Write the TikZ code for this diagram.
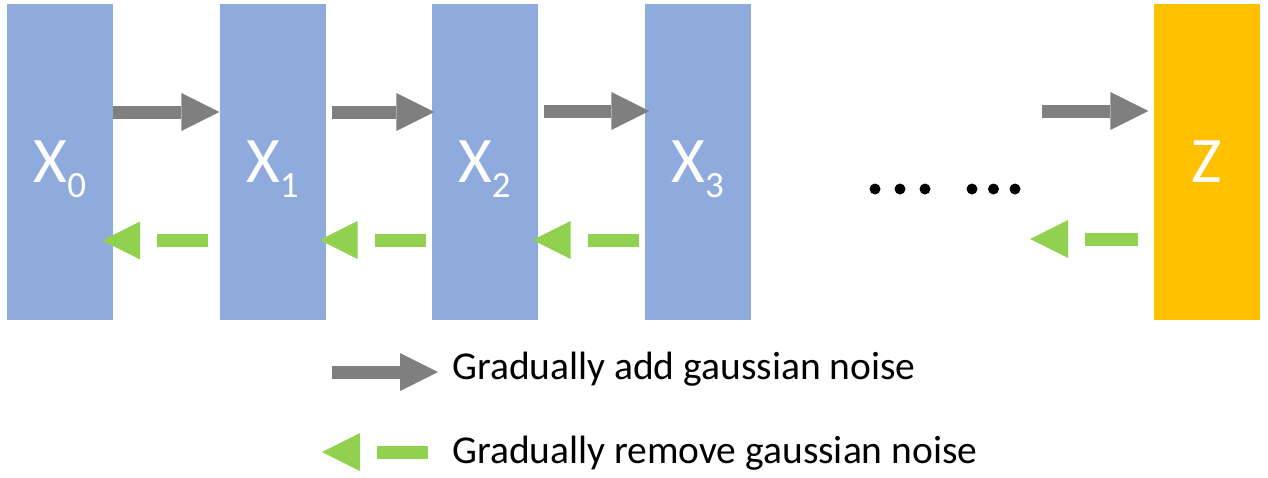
\documentclass[tikz,border=0pt]{standalone}
\usepackage{fontspec}
\newfontfamily\carlito{Carlito}
\usetikzlibrary{calc}
\definecolor{boxblue}{HTML}{8FAADC}
\definecolor{zorange}{HTML}{FFC000}
\definecolor{fwdgray}{HTML}{7F7F7F}
\definecolor{backgreen}{HTML}{92D050}
\tikzset{
  stagebox/.style={minimum width=106pt, minimum height=316pt, inner sep=0pt, text=white,
    font=\carlito\fontsize{65pt}{65pt}\selectfont},
  legendtext/.style={anchor=base west, inner sep=0pt, font=\carlito\fontsize{39.5pt}{39.5pt}\selectfont},
  dotmark/.style={fill=black}
}
% forward (grey block) arrow: #1 start of shaft, #2 tip
\newcommand\fwdarrow[2]{%
  \fill[fwdgray] ($(#1)+(0,6.5)$) rectangle ($(#2)+(-38,-6.5)$);
  \fill[fwdgray] (#2) -- ($(#2)+(-38,19)$) -- ($(#2)+(-38,-19)$) -- cycle;}
% backward (green dashed) arrow: #1 tip, #2 end of dash
\newcommand\backarrow[2]{%
  \fill[backgreen] (#1) -- ($(#1)+(38,19)$) -- ($(#1)+(38,-19)$) -- cycle;
  \fill[backgreen] ($(#1)+(55,6.5)$) rectangle ($(#2)+(0,-6.5)$);}
\newcommand\sub[1]{\smash{\raisebox{-15pt}{\fontsize{37pt}{37pt}\selectfont #1}}}
\begin{document}
\begin{tikzpicture}[x=1pt,y=1pt]
\useasboundingbox (0,0) rectangle (1268,-477);
% stages
\node[stagebox, fill=boxblue] (x0) at (60,-162) {X\sub{0}};
\node[stagebox, fill=boxblue] (x1) at (272.5,-162) {X\sub{1}};
\node[stagebox, fill=boxblue] (x2) at (484.5,-162) {X\sub{2}};
\node[stagebox, fill=boxblue] (x3) at (697.5,-162) {X\sub{3}};
\node[stagebox, fill=zorange] (z) at (1206.5,-162) {Z};
% forward arrows
\fwdarrow{$(x0.east)+(0,50)$}{$(x1.west)+(0,50)$}
\fwdarrow{$(x1.east)+(6,50)$}{$(x2.west)+(3,50)$}
\fwdarrow{$(x2.east)+(6,51)$}{$(x3.west)+(5,51)$}
\coordinate (zin) at (1042,-111);
\fwdarrow{zin}{$(z.west)+(-5,51)$}
% backward arrows
\backarrow{$(x0.east)+(-11,-78.5)$}{$(x1.west)+(-11,-78.5)$}
\backarrow{$(x1.east)+(-6,-78)$}{$(x2.west)+(-5,-78)$}
\backarrow{$(x2.east)+(-5,-78)$}{$(x3.west)+(-5,-78)$}
\coordinate (zout) at (1030,-239);
\backarrow{zout}{$(z.west)+(-15,-77)$}
% ellipsis dots
\foreach \dx in {875,900,925,972,993.5,1015}
  \fill[dotmark] (\dx,-189) circle (5.5);
% legend
\coordinate (lg1s) at (332,-372);
\coordinate (lg1t) at (438,-372);
\fwdarrow{lg1s}{lg1t}
\coordinate (lg2t) at (322,-452);
\coordinate (lg2e) at (428,-452);
\backarrow{lg2t}{lg2e}
\node[legendtext] (t1) at (452,-379) {Gradually add gaussian noise};
\node[legendtext] (t2) at (452,-463) {Gradually remove gaussian noise};
\end{tikzpicture}
\end{document}
